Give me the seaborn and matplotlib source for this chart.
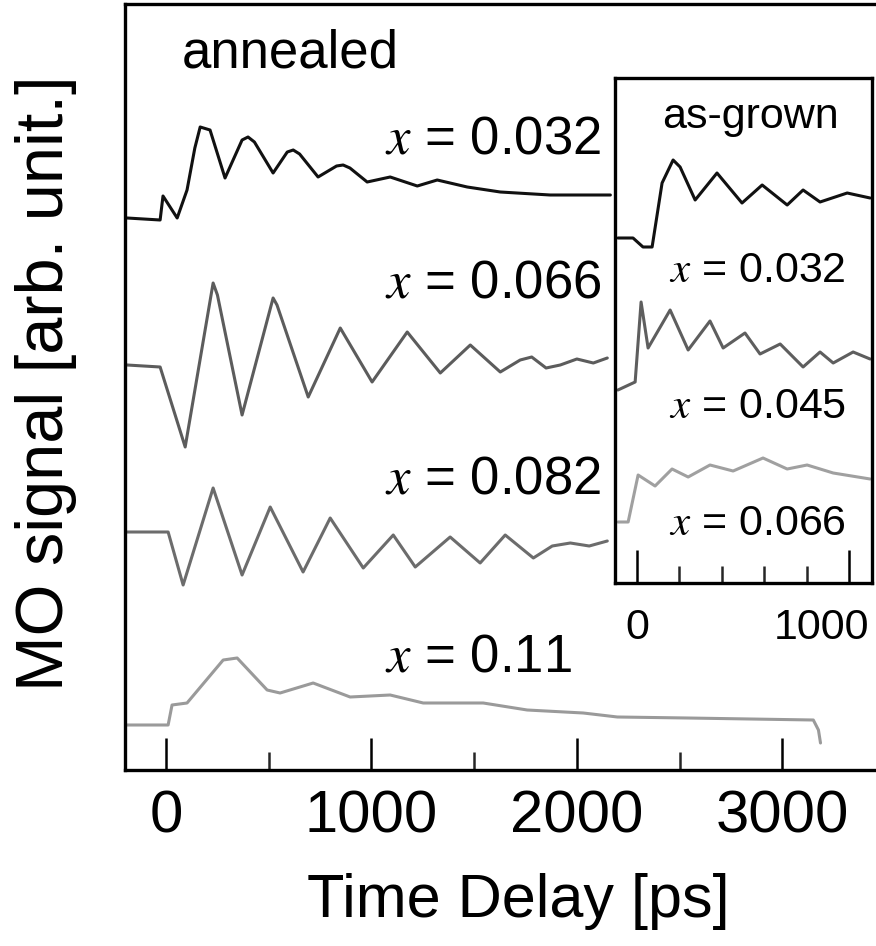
import matplotlib
matplotlib.use("Agg")
import matplotlib.pyplot as plt
import matplotlib.transforms as mtransforms
import pandas as pd
import seaborn as sns

# ---------------- data ----------------
# annealed samples (main panel): time [ps] and signal relative to each trace baseline
ann_comp = ["0.032", "0.066", "0.082", "0.11"]
ann_offset = [552, 405, 238, 45]
ann_color = ["#111111", "#5c5c5c", "#6c6c6c", "#9a9a9a"]

ann_t_032 = [-190, -29, -15, 54, 102, 140, 166, 214, 287, 370, 399, 430, 521, 590, 619,
             650, 740, 830, 862, 895, 979, 1091, 1223, 1320, 1466, 1627, 1870, 2163]
ann_s_032 = [0, -2, 22, 0, 28, 70, 91, 88, 40, 78, 81, 76, 45, 66, 68,
             64, 41, 52, 53, 50, 36, 41, 32, 38, 31, 26, 23, 23]

ann_t_066 = [-190, -29, 93, 229, 250, 370, 521, 540, 692, 848, 1003, 1174, 1335, 1481,
             1627, 1724, 1780, 1850, 1919, 2000, 2080, 2148]
ann_s_066 = [0, -2, -82, 82, 70, -50, 67, 60, -32, 37, -17, 33, -8, 20,
             -7, 5, 8, -3, 0, 6, 2, 7]

ann_t_082 = [-190, 10, 83, 229, 370, 507, 667, 799, 960, 1106, 1213, 1383, 1529,
             1651, 1788, 1880, 1968, 2060, 2148]
ann_s_082 = [0, 0, -53, 44, -43, 25, -40, 14, -36, -3, -35, -5, -31,
             -3, -26, -14, -11, -14, -9]

ann_t_011 = [-190, 10, 29, 102, 278, 346, 492, 555, 716, 896, 1091, 1252, 1544,
             1758, 2031, 2197, 2538, 3151, 3176, 3186]
ann_s_011 = [0, 0, 20, 22, 65, 67, 35, 32, 42, 28, 30, 22, 22,
             15, 12, 8, 7, 5, -5, -18]

# as-grown samples (inset)
grown_comp = ["0.032", "0.045", "0.066"]
grown_offset = [345, 193, 61]
grown_color = ["#111111", "#5e5e5e", "#a0a0a0"]

grown_t_032 = [-90, -19, 28, 71, 118, 170, 203, 274, 377, 495, 590, 708, 783, 863, 991, 1099]
grown_s_032 = [0, 0, -9, -9, 55, 78, 71, 38, 65, 35, 53, 33, 48, 36, 45, 40]

grown_t_045 = [-90, -9, 19, 52, 156, 241, 344, 406, 509, 580, 675, 783, 863, 925, 1019, 1099]
grown_s_045 = [0, 8, 88, 42, 80, 40, 69, 42, 57, 36, 46, 23, 38, 27, 38, 31]

grown_t_066 = [-90, -42, 5, 85, 165, 241, 344, 453, 594, 708, 802, 925, 1099]
grown_s_066 = [0, 0, 47, 36, 53, 45, 57, 51, 64, 53, 57, 49, 43]

main_xticks = [0, 1000, 2000, 3000]
main_minor = [500, 1500, 2500]
inset_xticks = [0, 1000]
inset_minor = [200, 400, 600, 800]

# ---------------- build tables ----------------
def build(ts, ss, comps, offsets):
    rows = []
    for t, s, c, off in zip(ts, ss, comps, offsets):
        for ti, si in zip(t, s):
            rows.append({"t": ti, "y": si + off, "comp": c})
    return pd.DataFrame(rows)

df_ann = build([ann_t_032, ann_t_066, ann_t_082, ann_t_011],
               [ann_s_032, ann_s_066, ann_s_082, ann_s_011], ann_comp, ann_offset)
df_grown = build([grown_t_032, grown_t_045, grown_t_066],
                 [grown_s_032, grown_s_045, grown_s_066], grown_comp, grown_offset)

# ---------------- style ----------------
sns.set_theme(style="ticks")
plt.rcParams["font.family"] = ["Liberation Sans", "DejaVu Sans"]
plt.rcParams["mathtext.fontset"] = "stix"
plt.rcParams["axes.linewidth"] = 2.2
plt.rcParams["axes.edgecolor"] = "black"

W, H = 876, 946
fig = plt.figure(figsize=(W / 100, H / 100), dpi=100)

# main axes (right edge runs just past the figure border)
ax = fig.add_axes([125 / W, (H - 770) / H, 760 / W, 766 / H])
sns.lineplot(data=df_ann, x="t", y="y", hue="comp", palette=ann_color,
             hue_order=ann_comp, estimator=None, sort=False, legend=False,
             linewidth=2.2, ax=ax)
ax.set_xlim(-200, 3500)
ax.set_ylim(0, 766)
ax.set_xticks(main_xticks)
ax.set_xticks(main_minor, minor=True)
ax.set_xticklabels([str(v) for v in main_xticks])
ax.set_yticks([])
ax.tick_params(axis="x", which="major", direction="in", length=23, width=1.8,
               pad=14, labelsize=43, colors="black")
ax.tick_params(axis="x", which="minor", direction="in", length=13, width=1.8)
ax.spines["right"].set_visible(False)
for s in ["left", "top", "bottom"]:
    ax.spines[s].set_linewidth(2.4)
ax.set_xlabel("Time Delay [ps]", fontsize=44, color="black", va="top")
ax.xaxis.set_label_coords((518 - 125) / 760, (770 - 873) / 766)
ax.set_ylabel("MO signal [arb. unit.]", fontsize=48, color="black")
ax.yaxis.set_label_coords((77 - 125) / 760, 0.505)

ax.text(78, 702, "annealed", fontsize=38, ha="left", va="baseline", color="black")
ann_label_y = [617, 472, 277, 98]
for c, yy in zip(ann_comp, ann_label_y):
    ax.text(1068, yy, r"$x$ = " + c, fontsize=38, ha="left", va="baseline", color="black")

# inset
axi = fig.add_axes([615 / W, (H - 583) / H, 257 / W, 505 / H])
axi.set_facecolor("white")
axi.set_zorder(5)
sns.lineplot(data=df_grown, x="t", y="y", hue="comp", palette=grown_color,
             hue_order=grown_comp, estimator=None, sort=False, legend=False,
             linewidth=2.2, ax=axi)
axi.set_xlim(-104, 1108)
axi.set_ylim(0, 505)
axi.set_xticks(inset_xticks)
axi.set_xticks(inset_minor, minor=True)
axi.set_xticklabels([str(v) for v in inset_xticks])
axi.set_yticks([])
axi.set_xlabel("")
axi.set_ylabel("")
axi.tick_params(axis="x", which="major", direction="in", length=24, width=1.8,
                pad=18, labelsize=31, colors="black")
axi.tick_params(axis="x", which="minor", direction="in", length=12, width=1.8)
for s in axi.spines.values():
    s.set_linewidth(2.4)
labs = axi.get_xticklabels()
labs[-1].set_horizontalalignment("right")
labs[-1].set_transform(labs[-1].get_transform() +
                       mtransforms.ScaledTranslation(0.20, 0, fig.dpi_scale_trans))

axi.text(118, 455, "as-grown", fontsize=31, ha="left", va="baseline", color="black")
grown_label_y = [301, 165, 48]
for c, yy in zip(grown_comp, grown_label_y):
    axi.text(152, yy, r"$x$ = " + c, fontsize=31, ha="left", va="baseline", color="black")

fig.savefig("out.png", dpi=100)
